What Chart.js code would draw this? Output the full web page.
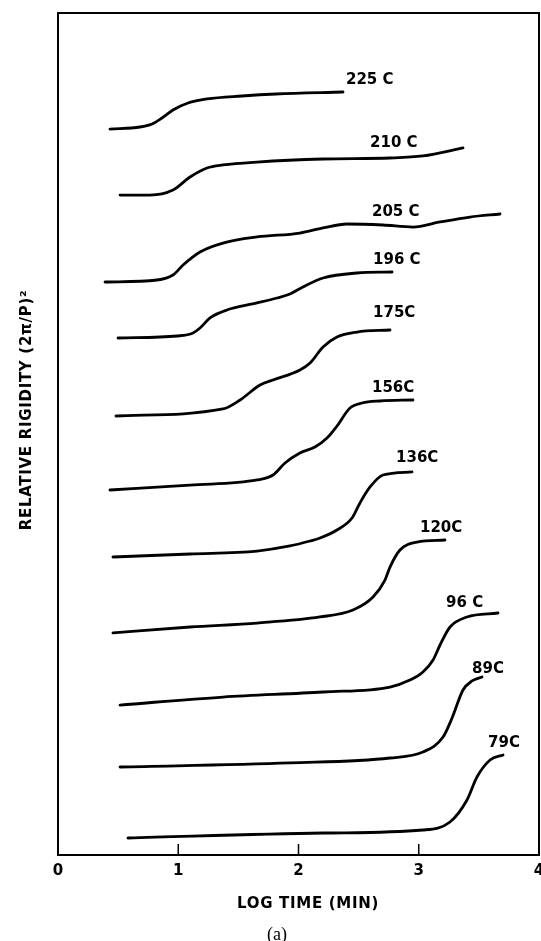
<!DOCTYPE html>
<html><head><meta charset="utf-8">
<script src="https://cdn.jsdelivr.net/npm/chart.js@4/dist/chart.umd.min.js"></script>
<style>html,body{margin:0;padding:0;background:#fff;}canvas{display:block;}</style>
</head><body>
<canvas id="c" width="541" height="941"></canvas>
<script>
// ---- data (x = log time, y = relative rigidity, offset curves) ----
const xTicks = [0, 1, 2, 3, 4];
const curveLabels = ['225 C', '210 C', '205 C', '196 C', '175C', '156C', '136C', '120C', '96 C', '89C', '79C'];

const logT225 = [0.432, 0.682, 0.782, 0.865, 0.956, 1.081, 1.239, 1.530, 1.813, 2.370];
const rig225  = [86.22, 86.46, 86.82, 87.53, 88.48, 89.31, 89.79, 90.14, 90.38, 90.62];

const logT210 = [0.516, 0.765, 0.956, 1.098, 1.239, 1.372, 1.655, 2.204, 2.761, 3.035, 3.368];
const rig210  = [78.38, 78.38, 78.98, 80.52, 81.59, 81.95, 82.30, 82.66, 82.78, 83.02, 83.97];

const logT205 = [0.391, 0.823, 0.956, 1.040, 1.181, 1.372, 1.655, 2.012, 2.204, 2.403, 2.703, 2.952, 3.177, 3.426, 3.676];
const rig205  = [68.05, 68.29, 68.88, 70.07, 71.62, 72.68, 73.40, 73.87, 74.47, 74.94, 74.82, 74.58, 75.18, 75.77, 76.13];

const logT196 = [0.499, 0.990, 1.123, 1.181, 1.264, 1.405, 1.655, 1.821, 1.929, 2.037, 2.204, 2.486, 2.778];
const rig196  = [61.40, 61.64, 62.00, 62.59, 63.78, 64.73, 65.56, 66.15, 66.63, 67.46, 68.53, 69.12, 69.24];

const logT175 = [0.482, 1.372, 1.514, 1.680, 1.788, 2.012, 2.096, 2.204, 2.320, 2.486, 2.761];
const rig175  = [52.14, 52.97, 54.04, 55.82, 56.41, 57.60, 58.43, 60.33, 61.52, 62.11, 62.35];

const logT156 = [0.432, 1.098, 1.655, 1.788, 1.888, 2.012, 2.137, 2.237, 2.320, 2.428, 2.528, 2.678, 2.952];
const rig156  = [43.35, 43.94, 44.54, 45.13, 46.56, 47.74, 48.46, 49.52, 50.95, 53.09, 53.68, 53.92, 54.04];

const logT136 = [0.457, 1.098, 1.655, 1.929, 2.096, 2.179, 2.320, 2.445, 2.511, 2.595, 2.703, 2.944];
const rig136  = [35.39, 35.75, 36.10, 36.70, 37.29, 37.65, 38.60, 40.02, 41.81, 43.71, 45.13, 45.49];

const logT120 = [0.457, 1.098, 1.655, 2.179, 2.453, 2.620, 2.719, 2.761, 2.844, 2.985, 3.218];
const rig120  = [26.37, 27.08, 27.55, 28.27, 29.10, 30.64, 32.66, 34.20, 36.22, 37.17, 37.41];

const logT96 = [0.516, 1.372, 2.204, 2.761, 2.927, 3.035, 3.119, 3.177, 3.260, 3.401, 3.659];
const rig96  = [17.81, 18.76, 19.36, 19.95, 20.78, 21.73, 23.16, 24.94, 27.08, 28.27, 28.74];

const logT89 = [0.516, 1.929, 2.761, 3.035, 3.202, 3.277, 3.368, 3.443, 3.526];
const rig89  = [10.45, 10.93, 11.52, 12.23, 14.01, 16.27, 19.60, 20.67, 21.14];

const logT79 = [0.582, 2.204, 3.035, 3.260, 3.401, 3.484, 3.593, 3.701];
const rig79  = [2.02, 2.61, 2.97, 3.92, 6.53, 9.26, 11.28, 11.88];

// label anchors (left edge, vertical middle) in data units
const labelLogTime  = [2.395, 2.595, 2.611, 2.620, 2.620, 2.611, 2.811, 3.010, 3.227, 3.443, 3.576];
const labelRigidity = [92.04, 84.56, 76.37, 70.67, 64.37, 55.46, 47.15, 38.84, 29.93, 22.09, 13.30];

const xs = [logT225, logT210, logT205, logT196, logT175, logT156, logT136, logT120, logT96, logT89, logT79];
const ys = [rig225, rig210, rig205, rig196, rig175, rig156, rig136, rig120, rig96, rig89, rig79];

const datasets = xs.map((arr, i) => ({
  label: curveLabels[i],
  data: arr.map((x, j) => ({ x: x, y: ys[i][j] })),
  borderColor: '#000',
  borderWidth: 2.8,
  pointRadius: 0,
  fill: false,
  cubicInterpolationMode: 'monotone',
  borderCapStyle: 'round',
  borderJoinStyle: 'round'
}));

const FONT = 'DejaVu Sans';

const decor = {
  id: 'decor',
  beforeDraw(chart) {
    const ctx = chart.ctx;
    ctx.save();
    ctx.fillStyle = '#fff';
    ctx.fillRect(0, 0, chart.width, chart.height);
    ctx.restore();
  },
  afterDraw(chart) {
    const ctx = chart.ctx;
    const a = chart.chartArea;
    const xs_ = chart.scales.x, ys_ = chart.scales.y;
    ctx.save();
    // frame
    ctx.strokeStyle = '#000';
    ctx.lineWidth = 2;
    ctx.strokeRect(a.left, a.top, a.right - a.left, a.bottom - a.top);
    // inward tick marks
    ctx.lineWidth = 1.5;
    xTicks.slice(1, -1).forEach(v => {
      const px = xs_.getPixelForValue(v);
      ctx.beginPath();
      ctx.moveTo(px, a.bottom);
      ctx.lineTo(px, a.bottom - 11);
      ctx.stroke();
    });
    // curve labels
    ctx.fillStyle = '#000';
    ctx.font = 'bold 15px "' + FONT + '"';
    ctx.textAlign = 'left';
    ctx.textBaseline = 'middle';
    curveLabels.forEach((t, i) => {
      ctx.fillText(t, xs_.getPixelForValue(labelLogTime[i]), ys_.getPixelForValue(labelRigidity[i]));
    });
    // x axis title
    ctx.textAlign = 'center';
    ctx.letterSpacing = '0.7px';
    ctx.fillText('LOG TIME (MIN)', 308, 904);
    // y axis title
    ctx.save();
    ctx.translate(27, 410);
    ctx.rotate(-Math.PI / 2);
    ctx.fillText('RELATIVE RIGIDITY (2\u03C0/P)\u00B2', 0, 0);
    ctx.restore();
    // sub caption
    ctx.letterSpacing = '0px';
    ctx.font = '18px "Liberation Serif"';
    ctx.fillText('(a)', 277, 935);
    ctx.restore();
  }
};

new Chart(document.getElementById('c'), {
  type: 'line',
  data: { datasets: datasets },
  options: {
    responsive: false,
    devicePixelRatio: 1,
    animation: false,
    events: [],
    layout: { padding: { left: 58, right: 2, top: 13, bottom: 0 }, autoPadding: false },
    plugins: { legend: { display: false }, tooltip: { enabled: false }, title: { display: false } },
    scales: {
      x: {
        type: 'linear', min: 0, max: 4,
        afterFit: (s) => { s.height = 86; s.paddingLeft = 0; s.paddingRight = 0; },
        afterBuildTicks: (s) => { s.ticks = xTicks.map(v => ({ value: v })); },
        ticks: { color: '#000', padding: 7, font: { family: FONT, weight: 'bold', size: 15 }, maxRotation: 0, autoSkip: false },
        grid: { display: false, drawTicks: false },
        border: { display: false }
      },
      y: { type: 'linear', min: 0, max: 100, display: false }
    }
  },
  plugins: [decor]
});
</script>
</body></html>
